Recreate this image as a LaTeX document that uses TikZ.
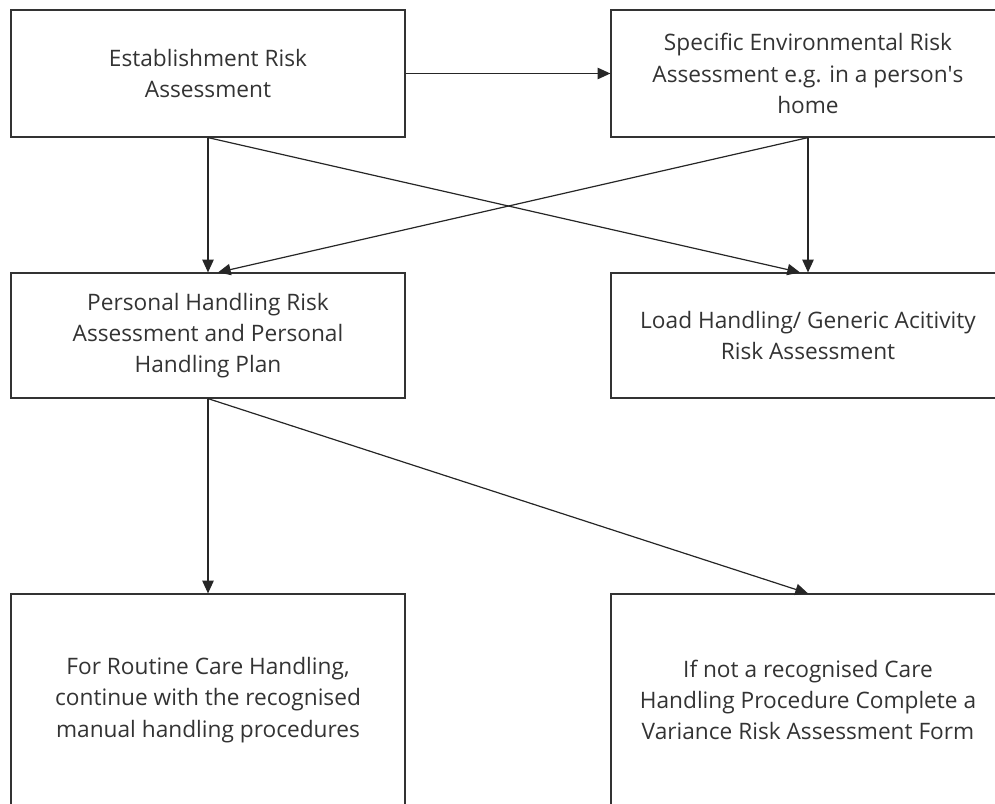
\documentclass[tikz,border=0pt]{standalone}
\usepackage{fontspec}
\setmainfont{Open Sans}
\usetikzlibrary{arrows.meta,calc}

\tikzset{
  riskbox/.style={draw=black!80, line width=0.9pt, text=black!80, align=center,
    minimum width=295.5pt, inner sep=0pt},
  flow/.style={draw=black!85, line width=0.9pt, -{Triangle[length=9.5pt,width=8.5pt]}}
}

\begin{document}
\begin{tikzpicture}[x=0.75pt, y=-0.75pt, font=\fontsize{17}{23.5}\selectfont]
\useasboundingbox (0,0) rectangle (995,803);
\clip (0,0) rectangle (995,803);
% assessments
\node[riskbox, minimum height=95.25pt] (estab) at (208,73.5) {Establishment Risk\\Assessment};
\node[riskbox, minimum height=95.25pt] (envrisk) at (808,73.5)
  {Specific Environmental Risk\\Assessment e.g. in a person\textquotesingle s\\home};
\node[riskbox, minimum height=93.75pt] (personal) at (208,335.5)
  {Personal Handling Risk\\Assessment and Personal\\Handling Plan};
\node[riskbox, minimum height=93.75pt] (load) at (808,335.5)
  {Load Handling/ Generic Acitivity\\Risk Assessment};
% handling procedures
\node[riskbox, minimum height=159pt] (routine) at (208,700)
  {For Routine Care Handling,\\continue with the recognised\\manual handling procedures};
\node[riskbox, minimum height=159pt] (variance) at (808,700)
  {If not a recognised Care\\Handling Procedure Complete a\\Variance Risk Assessment Form};
% connectors
\draw[flow] (estab.east) -- (envrisk.west);
\draw[flow] (estab.south) -- (personal.north);
\draw[flow] (estab.south) -- ($(load.north)+(-8,0)$);
\draw[flow] (envrisk.south) -- (load.north);
\draw[flow] (envrisk.south) -- ($(personal.north)+(10,0)$);
\draw[flow] (personal.south) -- (routine.north);
\draw[flow] (personal.south) -- (variance.north);
\end{tikzpicture}
\end{document}
